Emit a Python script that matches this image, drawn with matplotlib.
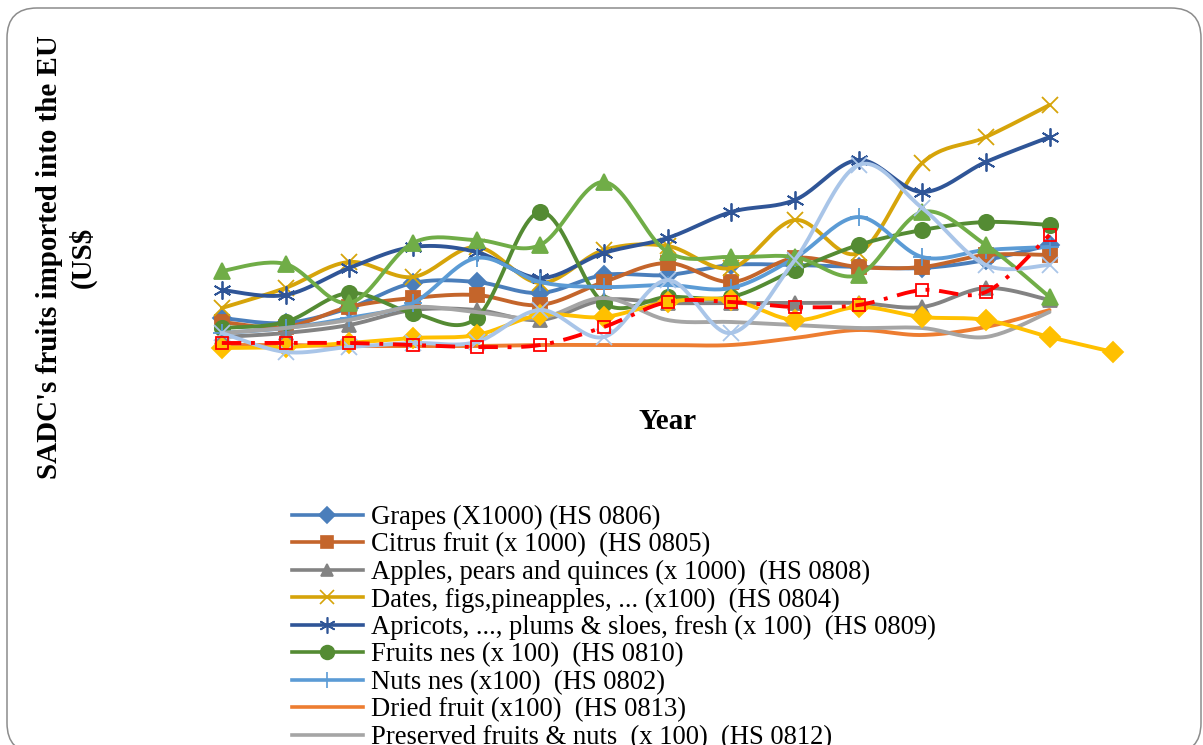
import numpy as np
import matplotlib.pyplot as plt
from matplotlib.lines import Line2D
from matplotlib.patches import FancyBboxPatch
from matplotlib.transforms import IdentityTransform

# years are not labelled in the chart, only positions 0..14
years = np.arange(15)

# values (arbitrary height units, no scale shown)
grapes = [62, 57, 72, 97, 98, 87, 105, 105, 115, 115, 113, 112, 120, 135]
citrus = [58, 53, 73, 82, 85, 75, 98, 117, 98, 122, 113, 113, 125, 125]
apples = [43, 47, 55, 70, 70, 60, 80, 77, 77, 77, 77, 73, 92, 80]
dates = [72, 92, 118, 103, 133, 97, 130, 134, 112, 160, 127, 217, 243, 275]
apricots = [90, 85, 112, 133, 128, 102, 127, 142, 168, 180, 220, 188, 218, 243]
fruits_nes = [52, 58, 87, 67, 62, 168, 77, 83, 83, 110, 135, 150, 158, 155]
nuts = [47, 52, 62, 77, 122, 98, 93, 95, 92, 122, 163, 123, 130, 133]
dried = [35, 35, 34, 34, 34, 35, 35, 35, 35, 42, 50, 45, 53, 70]
preserved = [47, 52, 60, 73, 68, 62, 82, 60, 58, 55, 52, 52, 43, 68]
s10 = [109, 116, 77, 137, 140, 135, 198, 128, 123, 123, 105, 168, 135, 83]
s11 = [32, 33, 37, 42, 45, 65, 63, 78, 80, 60, 73, 63, 60, 43, 28]
s12 = [47, 28, 33, 37, 38, 70, 43, 100, 47, 120, 215, 172, 115, 115]
s13 = [37, 37, 37, 35, 33, 35, 53, 78, 78, 73, 75, 90, 88, 145]

legend_labels = [
    "Grapes (X1000) (HS 0806)",
    "Citrus fruit (x 1000)  (HS 0805)",
    "Apples, pears and quinces (x 1000)  (HS 0808)",
    "Dates, figs,pineapples, ... (x100)  (HS 0804)",
    "Apricots, ..., plums & sloes, fresh (x 100)  (HS 0809)",
    "Fruits nes (x 100)  (HS 0810)",
    "Nuts nes (x100)  (HS 0802)",
    "Dried fruit (x100)  (HS 0813)",
    "Preserved fruits & nuts  (x 100)  (HS 0812)",
]


def smooth(x, y, n=24):
    # Excel-like smoothed line (Catmull-Rom as cubic Bezier)
    p = np.column_stack([x, y]).astype(float)
    out = []
    for i in range(len(p) - 1):
        p0 = p[i - 1] if i > 0 else p[i]
        p1, p2 = p[i], p[i + 1]
        p3 = p[i + 2] if i + 2 < len(p) else p[i + 1]
        c1 = p1 + (p2 - p0) / 6
        c2 = p2 - (p3 - p1) / 6
        t = np.linspace(0, 1, n)[:, None]
        seg = (1 - t)**3 * p1 + 3 * (1 - t)**2 * t * c1 + 3 * (1 - t) * t**2 * c2 + t**3 * p2
        out.append(seg if i == 0 else seg[1:])
    return np.vstack(out)


W, H = 1203, 745
fig = plt.figure(figsize=(W / 100, H / 100), dpi=100)
ax = fig.add_axes([190 / W, 1 - 380 / H, 955 / W, 290 / H])
ax.set_xlim(-0.5, 14.5)
ax.set_ylim(0, 290)
ax.axis('off')

series = [
    (grapes, '#4A7EBB', 'D', 9, '-', None),
    (citrus, '#C4652B', 's', 10, '-', None),
    (apples, '#838383', '^', 10, '-', None),
    (dates, '#D6A40A', 'x', 11, '-', None),
    (apricots, '#2F5597', (6, 2, 0), 13, '-', None),
    (fruits_nes, '#548B33', 'o', 11, '-', None),
    (nuts, '#5B9BD5', '+', 13, '-', None),
    (dried, '#ED7D31', None, 0, '-', None),
    (preserved, '#A5A5A5', None, 0, '-', None),
    (s10, '#70AD47', '^', 11, '-', None),
    (s11, '#FFC000', 'D', 10, '-', None),
    (s12, '#A9C5E8', 'x', 11, '-', None),
    (s13, '#FF0000', 's', 9, (0, (5, 2.5, 1, 2.5)), 'none'),
]

for vals, col, mk, ms, ls, fc in series:
    x = years[:len(vals)]
    pts = smooth(x, vals)
    ax.plot(pts[:, 0], pts[:, 1], color=col, lw=2.8, ls=ls, solid_capstyle='round')
    if mk is not None:
        ax.plot(x, vals, ls='none', marker=mk, ms=ms, color=col,
                mfc=col if fc is None else fc, mec=col, mew=1.3)

handles = []
for vals, col, mk, ms, ls, fc in series[:9]:
    handles.append(Line2D([], [], color=col, lw=2.6, marker=mk,
                          ms=ms * 0.9 if mk else 0, mfc=col, mec=col, mew=1.2))

# last entry is cut by the bottom edge, as in the source image
fig.legend(handles, legend_labels, loc='upper left',
           bbox_to_anchor=(292 / W, 1 - 505 / H), frameon=False,
           prop={'family': 'Liberation Serif', 'size': 19.2},
           labelspacing=0.09, borderpad=0, borderaxespad=0,
           handlelength=2.65, handletextpad=0.3)

fig.text(66 / W, 1 - 257 / H, "SADC's fruits imported into the EU\n(US$",
         rotation=90, ha='center', va='center', multialignment='center',
         family='Liberation Serif', weight='bold', size=20.9, linespacing=1.25)
fig.text(668 / W, 1 - 421 / H, "Year", ha='center', va='center',
         family='Liberation Serif', weight='bold', size=21)

frame = FancyBboxPatch((7, -8), 1194, 745, boxstyle="round,pad=0,rounding_size=30",
                       transform=IdentityTransform(), fill=False,
                       edgecolor='#8C8C8C', lw=1.1)
fig.add_artist(frame)

fig.savefig('out.png', dpi=100)
